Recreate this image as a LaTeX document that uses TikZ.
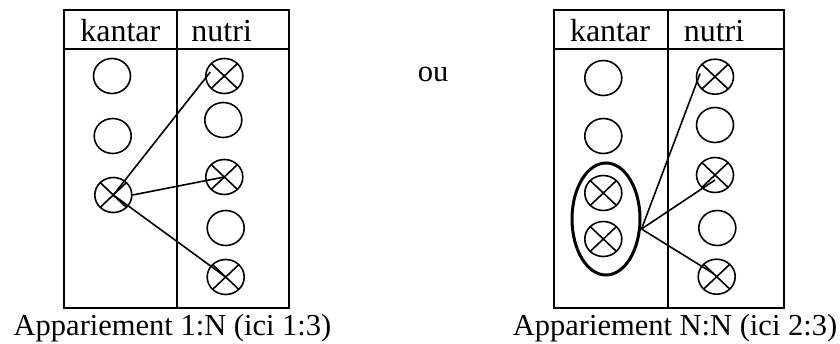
\documentclass[tikz,border=0pt]{standalone}
\usepackage{fontspec}
\setmainfont{Liberation Serif}
\usetikzlibrary{shapes.geometric,calc}
\tikzset{
  frame/.style={line width=2pt},
  slot/.style={ellipse, draw, line width=1.6pt, minimum width=37pt, minimum height=35pt, inner sep=0pt},
  hit/.style={slot, path picture={
      \draw[line width=1.6pt] (path picture bounding box.north west) -- (path picture bounding box.south east)
                              (path picture bounding box.north east) -- (path picture bounding box.south west);}},
  link/.style={line width=1.6pt},
  group/.style={ellipse, draw, line width=3pt, minimum width=68pt, minimum height=112pt, inner sep=0pt},
  label/.style={inner sep=0pt, anchor=base},
  head/.style={label, font=\fontsize{32}{36}\selectfont},
  caption/.style={label, font=\fontsize{30.5}{36}\selectfont}
}
\begin{document}
\begin{tikzpicture}[x=1pt, y=-1pt]
\useasboundingbox (0,0) rectangle (840,343);

% ---------- left table: 1:N ----------
\draw[frame] (63.5,10) rectangle (289.3,308);
\draw[frame] (63.5,48.5) -- (289.3,48.5);
\draw[frame] (176.7,10) -- (176.7,308);
\node[head] (lk) at (120.3,41) {kantar};
\node[head] (ln) at (221.7,41) {nutri};

\node[slot] (a1) at (112,76) {};
\node[slot] (a2) at (112.7,136) {};
\node[hit]  (a3) at (113.3,195) {};

\node[hit]  (b1) at (224.3,76) {};
\node[slot] (b2) at (223.3,120) {};
\node[hit]  (b3) at (224.3,177) {};
\node[slot] (b4) at (225.7,228) {};
\node[hit]  (b5) at (225.7,277) {};

\draw[link] (a3.center) -- ($(b1.center)+(-14,-4)$);
\draw[link] (a3.east) -- (b3.center);
\draw[link] (a3.center) -- (b5.center);

\node[caption] (cl) at (172.5,335.5) {Appariement 1:N (ici 1:3)};

% ---------- separator word ----------
\node[caption] (ou) at (433,81.7) {ou};

% ---------- right table: N:N ----------
\draw[frame] (554,10) rectangle (784,308);
\draw[frame] (554,48.5) -- (784,48.5);
\draw[frame] (667.5,10) -- (667.5,308);
\node[head] (rk) at (610,41) {kantar};
\node[head] (rn) at (714,41) {nutri};

\node[slot] (c1) at (603.3,78) {};
\node[slot] (c2) at (603.3,136) {};
\node[hit]  (c3) at (603.3,193) {};
\node[hit]  (c4) at (603.3,239) {};
\node[group] (grp) at (606,219) {};

\node[hit]  (d1) at (715,76.7) {};
\node[slot] (d2) at (715,125) {};
\node[hit]  (d3) at (715,175) {};
\node[slot] (d4) at (717.3,228) {};
\node[hit]  (d5) at (716.7,276.7) {};

\coordinate (gx) at ($(grp.east)+(0,10)$);
\draw[link] (gx) -- ($(d1.center)+(-15,-3)$);
\draw[link] (gx) -- ($(d3.center)+(0,5)$);
\draw[link] (gx) -- ($(d5.center)+(-3,-3)$);

\node[caption] (cr) at (675,335.5) {Appariement N:N (ici 2:3)};
\end{tikzpicture}
\end{document}
